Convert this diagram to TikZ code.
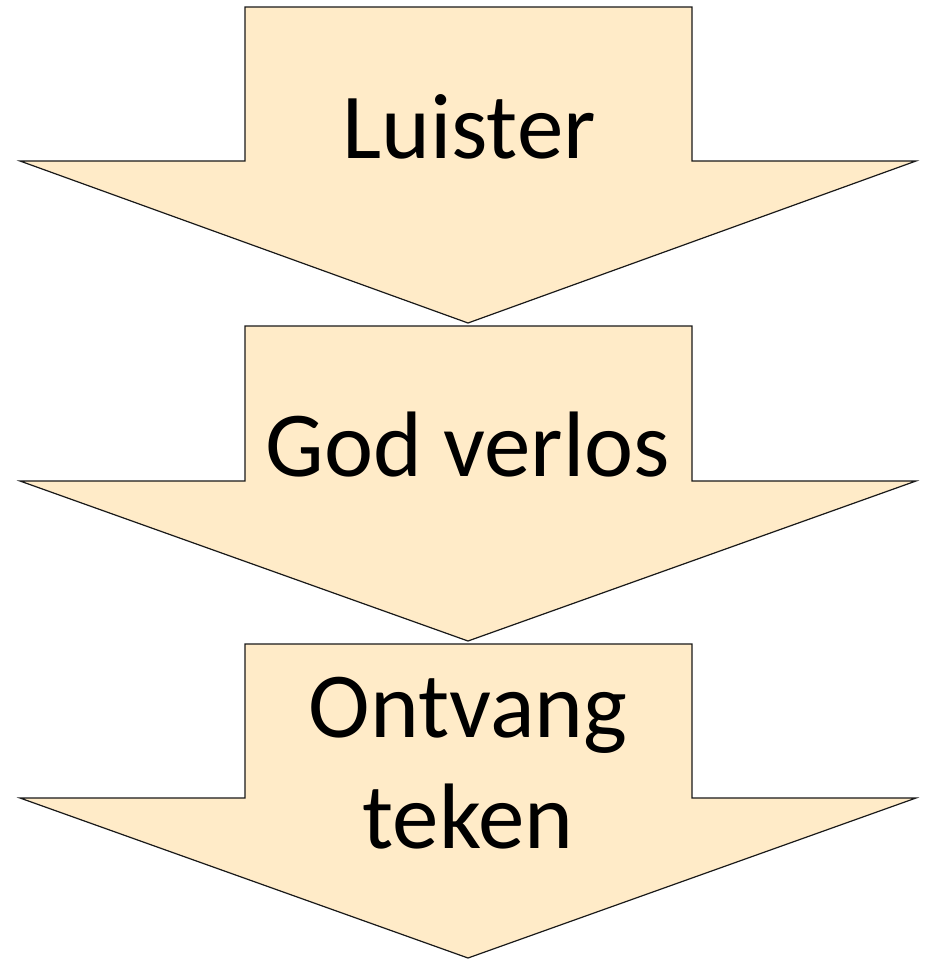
\documentclass[tikz,border=0pt]{standalone}
\usepackage{fontspec}
\setmainfont{Carlito}
\definecolor{peach}{RGB}{255,235,200}
\tikzset{
  downarrow/.style={fill=peach, draw=black!90, line width=1.2pt, line join=miter},
  lbl/.style={anchor=base, inner sep=0pt, font=\fontsize{93}{111}\selectfont}
}
\begin{document}
\begin{tikzpicture}[x=1pt,y=-1pt]
\useasboundingbox (0,0) rectangle (926,959);
\foreach \t/\b/\p in {7/161/323, 326/481/641, 644/798/958}{
  \draw[downarrow] (245,\t) -- (692,\t) -- (692,\b) -- (916,\b) -- (468,\p) -- (20,\b) -- (245,\b) -- cycle;
}
\node[lbl] (a) at (469,158) {Luister};
\node[lbl] (b) at (468,476) {God verlos};
\node[lbl] (c1) at (468,737) {Ontvang};
\node[lbl] (c2) at (468,848) {teken};
\end{tikzpicture}
\end{document}
